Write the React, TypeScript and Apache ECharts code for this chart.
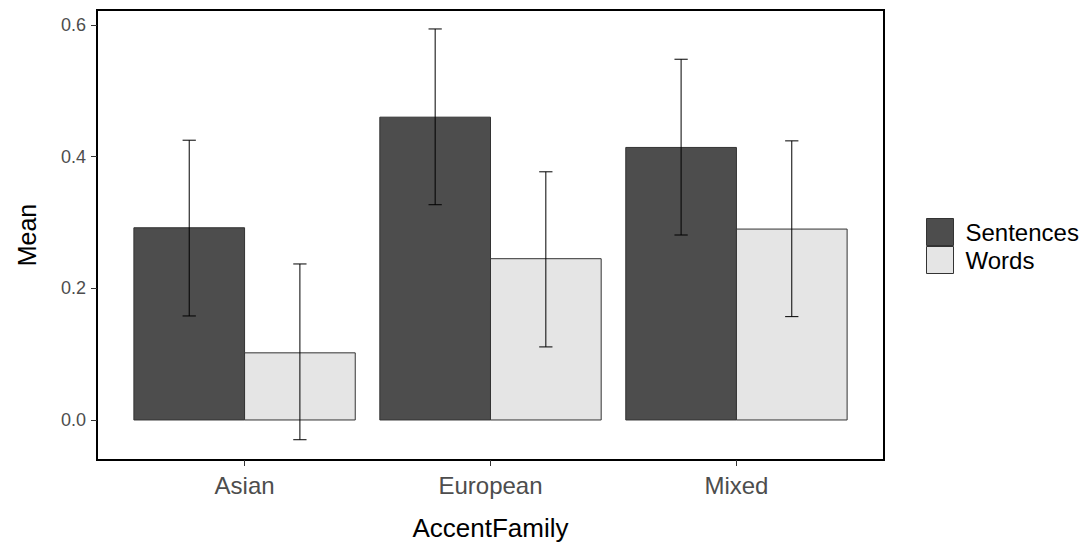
import React, { useEffect, useRef } from "react";
import * as echarts from "echarts";

const categories = ["Asian", "European", "Mixed"];
const seriesNames = ["Sentences", "Words"];
const sentencesMean = [0.292, 0.46, 0.414];
const sentencesLow = [0.158, 0.327, 0.281];
const sentencesHigh = [0.425, 0.594, 0.548];
const wordsMean = [0.102, 0.245, 0.29];
const wordsLow = [-0.03, 0.111, 0.157];
const wordsHigh = [0.237, 0.377, 0.424];
const yTicks = [0, 0.2, 0.4, 0.6];

const FONT = "'Liberation Sans', Arial, sans-serif";
const DODGE = 0.45;
const CAP = 0.027;

export default function App() {
  const ref = useRef<HTMLDivElement>(null);
  useEffect(() => {
    if (!ref.current) return;
    const chart = echarts.init(ref.current, null, { renderer: "svg" });
    const xPos = categories.map((_, i) => i + 1);

    const barSeries = (name: string, means: number[], offset: number, color: string) => ({
      type: "custom",
      name,
      itemStyle: { color },
      data: means.map((m, i) => [xPos[i], m]),
      encode: { x: 0, y: 1 },
      renderItem: (params: any, api: any) => {
        const x = api.value(0);
        const v = api.value(1);
        const p0 = api.coord([x + offset - DODGE / 2, v]);
        const p1 = api.coord([x + offset + DODGE / 2, 0]);
        return {
          type: "rect",
          shape: { x: p0[0], y: p0[1], width: p1[0] - p0[0], height: p1[1] - p0[1] },
          style: { fill: color, stroke: "#333333", lineWidth: 1 },
        };
      },
      z: 2,
    });

    const errSeries = (name: string, lows: number[], highs: number[], offset: number) => ({
      type: "custom",
      name: name + "_err",
      data: lows.map((l, i) => [xPos[i], l, highs[i]]),
      encode: { x: 0, y: [1, 2] },
      renderItem: (params: any, api: any) => {
        const x = api.value(0) + offset;
        const lo = api.value(1);
        const hi = api.value(2);
        const top = api.coord([x, hi]);
        const bot = api.coord([x, lo]);
        const capL = api.coord([x - CAP, hi]);
        const capR = api.coord([x + CAP, hi]);
        const st = { stroke: "#000000", lineWidth: 1 };
        return {
          type: "group",
          children: [
            { type: "line", shape: { x1: top[0], y1: top[1], x2: bot[0], y2: bot[1] }, style: st },
            { type: "line", shape: { x1: capL[0], y1: top[1], x2: capR[0], y2: top[1] }, style: st },
            { type: "line", shape: { x1: capL[0], y1: bot[1], x2: capR[0], y2: bot[1] }, style: st },
          ],
        };
      },
      z: 3,
    });

    chart.setOption({
      animation: false,
      backgroundColor: "#ffffff",
      textStyle: { fontFamily: FONT },
      grid: {
        left: 97,
        right: 207,
        top: 10,
        bottom: 86,
        show: true,
        borderColor: "#000000",
        borderWidth: 2,
        backgroundColor: "transparent",
      },
      legend: {
        orient: "vertical",
        left: 921,
        top: 213,
        itemWidth: 27,
        itemHeight: 27,
        itemGap: 0,
        data: [
          { name: seriesNames[0], icon: "rect", itemStyle: { color: "#4d4d4d", borderColor: "#333333", borderWidth: 1 } },
          { name: seriesNames[1], icon: "rect", itemStyle: { color: "#e5e5e5", borderColor: "#333333", borderWidth: 1 } },
        ],
        textStyle: { fontSize: 24, color: "#000000", fontFamily: FONT, padding: [0, 0, 0, 7] },
        selectedMode: false,
      },
      xAxis: {
        type: "value",
        min: 0.4,
        max: 3.6,
        name: "AccentFamily",
        nameLocation: "middle",
        nameGap: 55,
        nameTextStyle: { fontSize: 26, color: "#000000", fontFamily: FONT },
        splitLine: { show: false },
        axisLine: { show: false, onZero: false },
        axisTick: { show: true, length: 6, lineStyle: { color: "#333333" }, customValues: xPos },
        axisLabel: {
          customValues: xPos,
          fontSize: 24,
          color: "#4d4d4d",
          margin: 13,
          fontFamily: FONT,
          formatter: (v: number) => categories[Math.round(v) - 1] ?? "",
        },
      },
      yAxis: {
        type: "value",
        min: -0.0608,
        max: 0.6228,
        name: "Mean",
        nameLocation: "middle",
        nameGap: 58,
        nameTextStyle: { fontSize: 25, color: "#000000", fontFamily: FONT },
        splitLine: { show: false },
        axisLine: { show: false, onZero: false },
        axisTick: { show: true, length: 6, lineStyle: { color: "#333333" }, customValues: yTicks },
        axisLabel: {
          customValues: yTicks,
          fontSize: 18,
          color: "#4d4d4d",
          margin: 11,
          fontFamily: FONT,
          formatter: (v: number) => v.toFixed(1),
        },
      },
      series: [
        barSeries(seriesNames[0], sentencesMean, -DODGE / 2, "#4d4d4d"),
        barSeries(seriesNames[1], wordsMean, DODGE / 2, "#e5e5e5"),
        errSeries(seriesNames[0], sentencesLow, sentencesHigh, -DODGE / 2),
        errSeries(seriesNames[1], wordsLow, wordsHigh, DODGE / 2),
      ],
    });
    return () => chart.dispose();
  }, []);
  return <div ref={ref} style={{ width: 1091, height: 546, position: "absolute", left: 0, top: 0 }} />;
}
